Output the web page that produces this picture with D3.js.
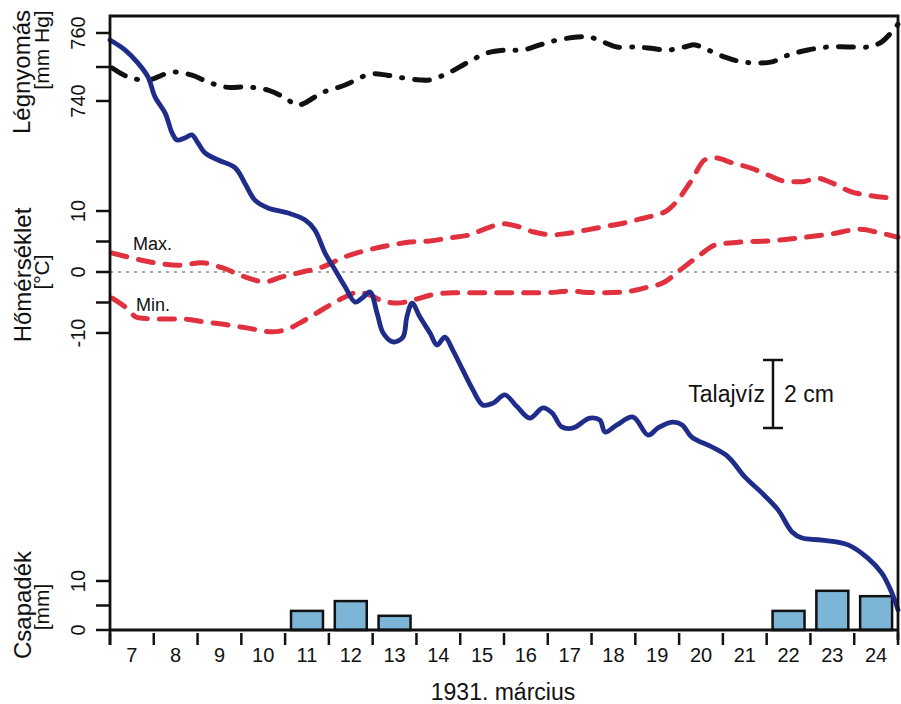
<!DOCTYPE html>
<html>
<head>
<meta charset="utf-8">
<script src="https://cdn.jsdelivr.net/npm/d3@7"></script>
<style>
  html, body { margin: 0; padding: 0; background: #ffffff; }
  svg { display: block; font-family: "Liberation Sans", Arial, Helvetica, sans-serif; }
</style>
</head>
<body>
<svg id="chart" width="901" height="704"></svg>
<script>
// ---------- DATA ----------
const days = [7,8,9,10,11,12,13,14,15,16,17,18,19,20,21,22,23,24];
const precip = [0,0,0,0,3.9,5.9,2.9,0,0,0,0,0,0,0,0,3.9,8.0,6.9];

const pressureT = [7.05,7.41,7.87,8.42,8.87,9.24,9.63,10.15,10.61,11.00,11.27,11.45,11.84,12.37,12.94,13.33,13.69,14.08,14.31,14.77,15.15,15.61,16.07,16.43,16.82,17.21,17.67,17.96,18.26,18.58,18.99,19.29,19.75,20.13,20.36,20.66,21.05,21.44,21.80,22.12,22.49,22.94,23.40,23.86,24.31,24.63,25.00];
const pressureV = [749.7,747.1,746.2,748.5,747.6,745.6,744.1,744.1,743.2,740.9,738.8,739.4,742.4,744.7,747.9,747.6,746.8,746.2,746.2,748.5,751.2,754.1,755.0,755.0,756.5,757.9,758.8,758.8,757.4,755.9,755.9,755.6,755.0,755.9,756.5,755.0,752.9,751.5,751.2,751.5,753.5,755.0,755.9,755.9,755.9,757.4,762.6];

const tmaxT = [7.05,7.50,8.03,8.55,9.10,9.56,10.08,10.54,10.93,11.39,11.84,12.37,12.89,13.40,13.85,14.31,14.77,15.22,15.61,15.98,16.30,16.66,17.12,17.51,17.90,18.26,18.72,19.11,19.45,19.75,19.97,20.29,20.59,20.82,21.21,21.66,22.03,22.49,22.81,23.15,23.49,23.95,24.31,24.93];
const tmaxV = [3.1,2.3,1.5,1.1,1.5,0.7,-0.8,-1.6,-0.8,0.0,0.8,2.5,3.6,4.4,4.9,5.1,5.6,6.1,7.2,7.9,7.5,6.6,6.1,6.4,6.9,7.4,8.0,8.7,9.3,10.2,11.8,15.1,18.4,18.7,17.9,17.0,15.9,14.8,14.8,15.4,14.6,13.1,12.6,12.1];

const tminT = [7.05,7.34,7.64,8.10,8.64,9.17,9.70,10.15,10.70,11.00,11.45,11.91,12.37,12.66,12.94,13.17,13.56,13.92,14.31,14.83,15.38,15.84,16.36,16.82,17.21,17.51,17.80,18.26,18.72,19.22,19.68,20.02,20.48,20.82,21.39,22.08,22.76,23.45,24.13,24.59,25.00];
const tminV = [-4.3,-5.7,-7.5,-7.7,-7.7,-8.2,-8.7,-9.2,-9.8,-9.5,-7.9,-5.9,-4.1,-3.3,-3.8,-4.6,-5.1,-4.6,-3.8,-3.4,-3.4,-3.4,-3.4,-3.4,-3.3,-3.1,-3.3,-3.4,-3.3,-2.6,-1.6,0.3,2.8,4.4,4.9,5.1,5.6,6.2,7.0,6.4,5.7];

// groundwater level, relative to the start [cm]
const gwT = [7.00,7.34,7.64,7.87,8.03,8.26,8.42,8.53,8.71,8.87,9.01,9.17,9.47,9.86,10.08,10.31,10.61,11.07,11.45,11.68,11.91,12.14,12.37,12.60,12.76,12.94,13.10,13.24,13.46,13.69,13.78,13.90,14.08,14.31,14.47,14.65,14.83,15.06,15.29,15.52,15.75,16.02,16.30,16.59,16.89,17.10,17.32,17.58,17.96,18.19,18.31,18.58,18.95,19.29,19.52,19.84,20.07,20.29,20.75,21.12,21.50,21.89,22.26,22.58,22.81,23.26,23.86,24.31,24.63,24.86,25.00];
const gwV = [0.00,-0.29,-0.68,-1.09,-1.68,-2.15,-2.74,-2.94,-2.88,-2.79,-3.03,-3.32,-3.53,-3.76,-4.21,-4.71,-4.94,-5.09,-5.29,-5.59,-6.26,-6.76,-7.26,-7.71,-7.59,-7.41,-8.03,-8.62,-8.88,-8.74,-8.15,-7.74,-8.15,-8.62,-8.97,-8.74,-9.12,-9.71,-10.29,-10.74,-10.68,-10.44,-10.79,-11.12,-10.82,-10.97,-11.38,-11.41,-11.12,-11.18,-11.53,-11.32,-11.09,-11.62,-11.41,-11.24,-11.32,-11.68,-11.97,-12.26,-12.85,-13.32,-13.82,-14.47,-14.65,-14.71,-14.85,-15.24,-15.68,-16.26,-16.76];

const pressureTicks = [740,750,760];
const pressureLabels = [740,760];
const tempTicks = [-10,-5,0,5,10];
const tempLabels = [-10,0,10];
const precipTicks = [0,5,10];
const precipLabels = [0,10];
const xTitle = "1931. március";
const gwScaleBar = 2; // cm

// ---------- LAYOUT / SCALES ----------
const svg = d3.select("#chart");
const L = 110, R = 898, T = 16, B = 630;

const x = d3.scaleLinear().domain([7,25]).range([L,R]);
const yP = d3.scaleLinear().domain([740,760]).range([101,33]);
const yT = d3.scaleLinear().domain([-10,10]).range([333,211]);
const yR = d3.scaleLinear().domain([0,10]).range([B,581]);
const yG = d3.scaleLinear().domain([0,-1]).range([40,74]);

const axisColor = "#111";
const red = "#e0313e";
const blue = "#1f2c8a";

svg.append("rect").attr("width",901).attr("height",704).attr("fill","#ffffff");

// zero line for temperature
svg.append("line")
  .attr("x1",L).attr("x2",R).attr("y1",yT(0)).attr("y2",yT(0))
  .attr("stroke","#a8a8a8").attr("stroke-width",2).attr("stroke-dasharray","3,5");

// precipitation bars
const barW = (x(8)-x(7))*0.73;
svg.append("g").selectAll("rect")
  .data(days.map((d,i)=>({d, v:precip[i]})).filter(o=>o.v>0))
  .join("rect")
  .attr("x", o => x(o.d+0.5)-barW/2)
  .attr("width", barW)
  .attr("y", o => yR(o.v))
  .attr("height", o => yR(0)-yR(o.v))
  .attr("fill","#7cb5d5")
  .attr("stroke","#111").attr("stroke-width",2.5);

// pressure line
const lineP = d3.line().x((d,i)=>x(pressureT[i])).y(d=>yP(d)).curve(d3.curveCatmullRom);
svg.append("path").datum(pressureV).attr("d",lineP)
  .attr("fill","none").attr("stroke","#111").attr("stroke-width",5)
  .attr("stroke-linecap","round").attr("stroke-dasharray","15,12,1,12");

// temperature lines
const lineMax = d3.line().x((d,i)=>x(tmaxT[i])).y(d=>yT(d)).curve(d3.curveMonotoneX);
const lineMin = d3.line().x((d,i)=>x(tminT[i])).y(d=>yT(d)).curve(d3.curveMonotoneX);
svg.append("path").datum(tmaxV).attr("d",lineMax)
  .attr("fill","none").attr("stroke",red).attr("stroke-width",5)
  .attr("stroke-linecap","round").attr("stroke-dasharray","15,12");
svg.append("path").datum(tminV).attr("d",lineMin)
  .attr("fill","none").attr("stroke",red).attr("stroke-width",5)
  .attr("stroke-linecap","round").attr("stroke-dasharray","15,12");

// groundwater line
const lineG = d3.line().x((d,i)=>x(gwT[i])).y(d=>yG(d)).curve(d3.curveCatmullRom);
svg.append("path").datum(gwV).attr("d",lineG)
  .attr("fill","none").attr("stroke",blue).attr("stroke-width",4.8)
  .attr("stroke-linejoin","round").attr("stroke-linecap","round");

// frame: left, top, right, bottom axis line
const frame = svg.append("g").attr("stroke",axisColor).attr("stroke-width",2.8).attr("fill","none");
frame.append("path").attr("d",`M${L},${B+15}V${T}H${R}V${B+10}`);
frame.append("line").attr("x1",L).attr("x2",R).attr("y1",B).attr("y2",B);

// left ticks
function leftTicks(scale, ticks, labels){
  const g = svg.append("g");
  g.selectAll("line").data(ticks).join("line")
    .attr("x1",96).attr("x2",L).attr("y1",d=>scale(d)).attr("y2",d=>scale(d))
    .attr("stroke",axisColor).attr("stroke-width",2.5);
  g.selectAll("text").data(labels).join("text")
    .attr("transform",d=>`translate(85,${scale(d)}) rotate(-90)`)
    .attr("text-anchor","middle").attr("font-size",20).attr("fill","#111")
    .text(d=>d);
}
leftTicks(yP, pressureTicks, pressureLabels);
leftTicks(yT, tempTicks, tempLabels);
leftTicks(yR, precipTicks, precipLabels);

// bottom ticks (day boundaries) and labels (day centres)
const bounds = days.concat([25]);
svg.append("g").selectAll("line").data(bounds).join("line")
  .attr("x1",d=>x(d)).attr("x2",d=>x(d)).attr("y1",B+3).attr("y2",B+15)
  .attr("stroke",axisColor).attr("stroke-width",2.5);
svg.append("g").selectAll("text").data(days).join("text")
  .attr("x",d=>x(d+0.5)).attr("y",662)
  .attr("text-anchor","middle").attr("font-size",20).attr("fill","#111")
  .text(d=>d);
svg.append("text").attr("x",503).attr("y",700).attr("text-anchor","middle")
  .attr("font-size",23).attr("fill","#111").text(xTitle);

// axis titles
function vtitle(txt, xb, yc, size){
  svg.append("text").attr("transform",`translate(${xb},${yc}) rotate(-90)`)
    .attr("text-anchor","middle").attr("font-size",size).attr("fill","#111").text(txt);
}
vtitle("Légnyomás", 30, 72, 24);
vtitle("[mm Hg]", 49, 50, 21);
vtitle("Hőmérséklet", 31, 275, 24);
vtitle("[°C]", 49, 272, 21);
vtitle("Csapadék", 31, 605, 24);
vtitle("[mm]", 49, 607, 21);

// Max./Min. labels
svg.append("text").attr("x",133).attr("y",250).attr("font-size",18).attr("fill","#111").text("Max.");
svg.append("text").attr("x",136).attr("y",311).attr("font-size",18).attr("fill","#111").text("Min.");

// groundwater scale bar
const sbX = 773, sbTop = 360;
const sbBot = sbTop + (yG(-gwScaleBar) - yG(0));
const sb = svg.append("g").attr("stroke","#111").attr("stroke-width",2.5);
sb.append("line").attr("x1",sbX).attr("x2",sbX).attr("y1",sbTop).attr("y2",sbBot);
sb.append("line").attr("x1",sbX-10).attr("x2",sbX+10).attr("y1",sbTop).attr("y2",sbTop);
sb.append("line").attr("x1",sbX-10).attr("x2",sbX+10).attr("y1",sbBot).attr("y2",sbBot);
svg.append("text").attr("x",sbX-8).attr("y",402).attr("text-anchor","end")
  .attr("font-size",23).attr("fill","#111").text("Talajvíz");
svg.append("text").attr("x",sbX+11).attr("y",402)
  .attr("font-size",23).attr("fill","#111").text(`${gwScaleBar} cm`);
</script>
</body>
</html>
